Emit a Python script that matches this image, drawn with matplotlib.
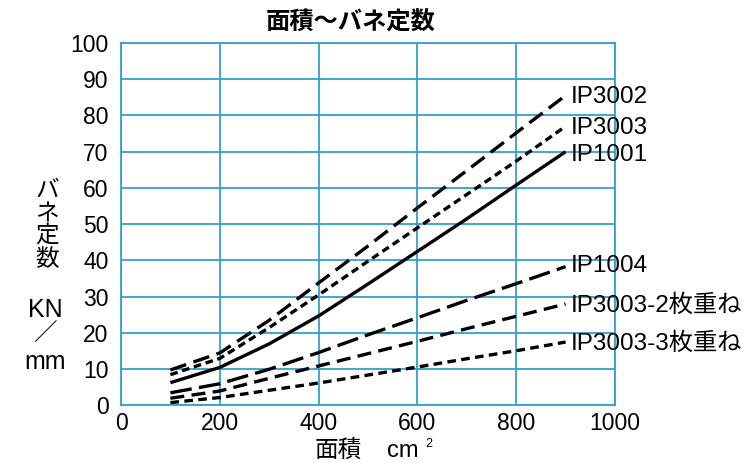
import matplotlib
matplotlib.use("Agg")
from matplotlib import pyplot as plt

plt.rcParams['font.family'] = ['Liberation Sans', 'Noto Sans CJK JP', 'DejaVu Sans']

# area (cm2) vs spring constant (KN/mm)
area = [100, 200, 300, 400, 500, 600, 700, 800, 900]
ip3002 = [9.8, 14.5, 23.5, 33.8, 44, 54.5, 64.8, 75.2, 85.5]
ip3003 = [8.5, 13, 21.5, 30.5, 39.8, 49, 58.2, 67.4, 77]
ip1001 = [6.3, 10.5, 17, 24.7, 33.5, 42.5, 51.5, 60.8, 70]
ip1004 = [3.5, 6, 10.0, 14.6, 19.5, 24.2, 29, 33.6, 38.3]
ip3003_2 = [2.0, 4.0, 7.5, 10.9, 14.3, 17.7, 21.2, 24.6, 28]
ip3003_3 = [0.8, 2.2, 4.2, 6.2, 8.4, 10.6, 12.9, 15.1, 17.5]

names = ['IP3002', 'IP3003', 'IP1001', 'IP1004', 'IP3003-2枚重ね', 'IP3003-3枚重ね']
series = [ip3002, ip3003, ip1001, ip1004, ip3003_2, ip3003_3]
label_y = [85.2, 76.6, 69.2, 38.6, 27.6, 17.2]

x_ticks = [0, 200, 400, 600, 800, 1000]
y_ticks = list(range(0, 101, 10))

dashes = [(5, 2.3), (2.3, 1.4), None, (6.5, 2.2), (4.2, 2.2), (2.6, 1.6)]
grid_col = '#34a0c8'

fig = plt.figure(figsize=(7.53, 4.63), dpi=100)
ax = fig.add_axes([0.1607, 0.1242, 0.656, 0.783])

for ys, d in zip(series, dashes):
    line, = ax.plot(area, ys, color='black', lw=2.4, solid_capstyle='butt')
    if d is not None:
        line.set_dashes(d)
        line.set_dash_capstyle('butt')

for name, yl in zip(names, label_y):
    ax.text(910, yl, name, fontsize=17.5, ha='left', va='center', clip_on=False)

ax.set_xlim(0, 1000)
ax.set_ylim(0, 100)
ax.set_xticks(x_ticks)
ax.set_yticks(y_ticks)
ax.tick_params(labelsize=16.5, length=0)
ax.tick_params(axis='y', pad=9)
ax.tick_params(axis='x', pad=5)
ax.grid(True, color=grid_col, lw=1.3)
ax.set_axisbelow(True)
for s in ax.spines.values():
    s.set_color(grid_col)
    s.set_linewidth(1.3)

fig.text(351 / 753, 1 - 22 / 463, '面積～バネ定数', fontsize=17.5, fontweight='bold',
         ha='center', va='center', family=['Noto Sans CJK JP'])
fig.text(47 / 753, 1 - 225 / 463, 'バ\nネ\n定\n数', fontsize=17, ha='center', va='center',
         linespacing=1.0, family=['Noto Sans CJK JP'])
fig.text(45 / 753, 1 - 310 / 463, 'KN', fontsize=18, ha='center', va='center')
fig.text(45 / 753, 1 - 334 / 463, '／', fontsize=17, ha='center', va='center',
         family=['Noto Sans CJK JP'])
fig.text(45 / 753, 1 - 362 / 463, 'mm', fontsize=18, ha='center', va='center')
fig.text(315 / 753, 1 - 450 / 463, '面積', fontsize=17, ha='left', va='center',
         family=['Noto Sans CJK JP'])
fig.text(387 / 753, 1 - 451 / 463, 'cm', fontsize=17, ha='left', va='center')
fig.text(425 / 753, 1 - 444 / 463, '2', fontsize=9, ha='left', va='center')

fig.savefig('out.png', dpi=100)
